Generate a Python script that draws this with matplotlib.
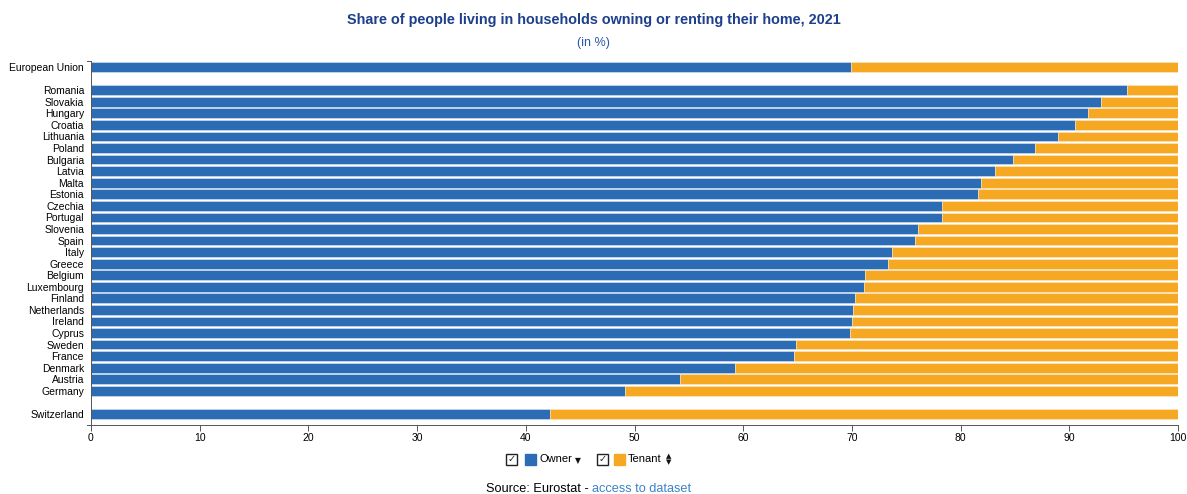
import matplotlib
matplotlib.use("Agg")
from matplotlib import pyplot as plt
from matplotlib.patches import Rectangle

countries = ["European Union",
             "Romania", "Slovakia", "Hungary", "Croatia", "Lithuania", "Poland",
             "Bulgaria", "Latvia", "Malta", "Estonia", "Czechia", "Portugal",
             "Slovenia", "Spain", "Italy", "Greece", "Belgium", "Luxembourg",
             "Finland", "Netherlands", "Ireland", "Cyprus", "Sweden", "France",
             "Denmark", "Austria", "Germany",
             "Switzerland"]
owner = [69.9,
         95.3, 92.9, 91.7, 90.5, 89.0, 86.8,
         84.8, 83.2, 81.9, 81.6, 78.3, 78.3,
         76.1, 75.8, 73.7, 73.3, 71.2, 71.1,
         70.3, 70.1, 70.0, 69.8, 64.9, 64.7,
         59.2, 54.2, 49.1,
         42.2]
tenant = [100 - v for v in owner]

# row positions: gap after EU and before Switzerland
ypos = [0] + list(range(2, 29)) + [30]

blue = "#2b6cb5"
orange = "#f6a823"
font = "Liberation Sans"

fig = plt.figure(figsize=(11.87, 4.94), dpi=100)
ax = fig.add_axes([91 / 1187, 1 - 425 / 494, 1087 / 1187, 364 / 494])

ax.barh(ypos, owner, height=0.84, color=blue, edgecolor="#dbe6f2", linewidth=0.4)
ax.barh(ypos, tenant, left=owner, height=0.84, color=orange, edgecolor="#fbe9c8", linewidth=0.4)

ax.set_xlim(0, 100)
ax.set_ylim(30.95, -0.52)
ax.set_yticks(ypos)
ax.set_yticklabels(countries, fontsize=7.5, family=font)
ax.set_xticks(range(0, 101, 10))
ax.set_xticklabels([str(t) for t in range(0, 101, 10)], fontsize=7.5, family=font)
ax.tick_params(axis="y", length=0, pad=5)
ax.tick_params(axis="x", length=4, width=0.7, color="#555555", pad=2)
for s in ["top", "right"]:
    ax.spines[s].set_visible(False)
ax.spines["left"].set_color("#555555")
ax.spines["left"].set_linewidth(0.7)
ax.spines["bottom"].set_color("#555555")
ax.spines["bottom"].set_linewidth(0.7)
# d3-style outer ticks on the left domain
ax.plot([-0.4, 0], [-0.52, -0.52], color="#555555", lw=0.7, clip_on=False)
ax.plot([-0.4, 0], [30.95, 30.95], color="#555555", lw=0.7, clip_on=False)

fig.text(0.5, 1 - 20 / 494, "Share of people living in households owning or renting their home, 2021",
         ha="center", va="center", fontsize=10.4, fontweight="bold", color="#1d3f8c", family=font)
fig.text(0.5, 1 - 43 / 494, "(in %)", ha="center", va="center", fontsize=9,
         color="#2a5aa8", family=font)

# legend
W, H = 1187, 494
ly = 1 - 459 / H
bw, bh = 11 / W, 11 / H
for xc, xs, xt, col, label in [(506, 525, 539, blue, "Owner"), (597, 614, 628, orange, "Tenant")]:
    fig.patches.append(Rectangle((xc / W, ly - bh / 2), bw, bh, transform=fig.transFigure,
                                 facecolor="white", edgecolor="#222222", linewidth=1.0))
    fig.text((xc + 5.5) / W, ly, "\u2713", ha="center", va="center", fontsize=7,
             family="DejaVu Sans", color="#222222")
    fig.patches.append(Rectangle((xs / W, ly - bh / 2), bw, bh, transform=fig.transFigure,
                                 facecolor=col, edgecolor=col))
    fig.text(xt / W, ly, label, ha="left", va="center", fontsize=8, family=font)
fig.text(578 / W, ly - 2 / H, "\u25bc", ha="center", va="center", fontsize=5.5,
         family="DejaVu Sans", color="#111111")
fig.text(669 / W, ly + 3 / H, "\u25b2", ha="center", va="center", fontsize=5,
         family="DejaVu Sans", color="#111111")
fig.text(669 / W, ly - 3 / H, "\u25bc", ha="center", va="center", fontsize=5,
         family="DejaVu Sans", color="#111111")

sy = 1 - 489 / H
fig.text(592 / W, sy, "Source: Eurostat - ", ha="right", va="center", fontsize=9.2, family=font)
fig.text(592 / W, sy, "access to dataset", ha="left", va="center", fontsize=9.2,
         family=font, color="#3b82c9")

plt.savefig("out.png", dpi=100)
